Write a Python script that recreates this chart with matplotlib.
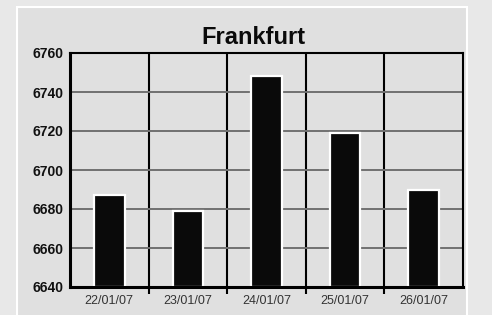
import matplotlib.pyplot as plt
from matplotlib.patches import Rectangle

'Data'
dates = ['22/01/07', '23/01/07', '24/01/07', '25/01/07', '26/01/07']
values = [6687, 6679, 6748, 6719, 6690]
yticks = [6640, 6660, 6680, 6700, 6720, 6740, 6760]

font = ['Liberation Sans Narrow', 'Liberation Sans', 'DejaVu Sans']

fig = plt.figure(figsize=(4.92, 3.15), dpi=100)
fig.patch.set_facecolor('#e8e8e8')

# outer panel with white border
panel = Rectangle((17 / 492, -0.05), (467 - 17) / 492, 1.05 - 7 / 315,
                  transform=fig.transFigure, facecolor='#e0e0e0',
                  edgecolor='white', linewidth=1.5, zorder=-1)
fig.patches.append(panel)

ax = fig.add_axes([70 / 492, 28 / 315, 393 / 492, 234 / 315])
ax.set_zorder(2)
ax.set_facecolor('#e0e0e0')

x = range(len(dates))
ax.bar(x, [v - 6640 for v in values], bottom=6640, width=0.39,
       color='#0a0a0a', edgecolor='white', linewidth=1.6, zorder=3)

ax.set_xlim(-0.5, len(dates) - 0.5)
ax.set_ylim(6640, 6760)
ax.set_yticks(yticks)
ax.set_yticklabels([str(t) for t in yticks], family=font, fontweight='bold',
                   fontsize=10, color='#111111')
ax.set_xticks(list(x))
ax.set_xticklabels(dates, fontsize=9, color='#333333', family=font)
ax.set_xticks([i + 0.5 for i in range(len(dates) - 1)], minor=True)

ax.tick_params(axis='y', length=0, pad=5)
ax.tick_params(axis='x', which='major', length=0, pad=6)
ax.tick_params(axis='x', which='minor', length=5, width=1.5, color='black')

ax.grid(axis='y', which='major', color='#707070', linewidth=1.4, zorder=1)
ax.grid(axis='x', which='minor', color='black', linewidth=1.5, zorder=1)
ax.set_axisbelow(True)

for s in ax.spines.values():
    s.set_linewidth(1.5)
    s.set_color('black')
    s.set_zorder(5)
ax.spines['left'].set_linewidth(2.2)
ax.spines['bottom'].set_linewidth(2.2)

fig.text(253 / 492, 1 - 44 / 315, 'Frankfurt', ha='center', va='baseline',
         fontsize=17, fontweight='bold', family=font, color='#0a0a0a')

plt.savefig('out.png', dpi=100)
